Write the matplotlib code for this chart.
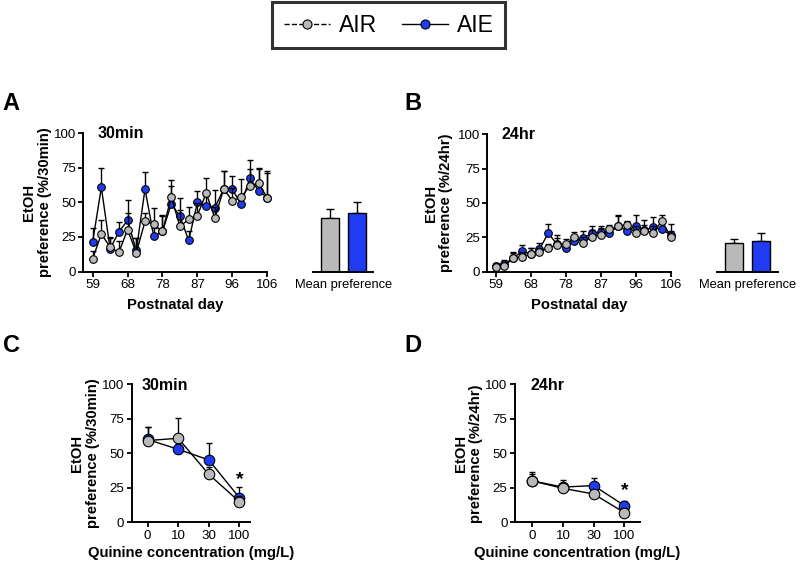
import matplotlib
matplotlib.use("Agg")
import matplotlib.pyplot as plt
from matplotlib.lines import Line2D
import numpy as np

plt.rcParams['font.family'] = ['Liberation Sans', 'DejaVu Sans']

# ---------------- data ----------------
days = [59, 61, 63, 66, 68, 70, 73, 75, 78, 80, 82, 85, 87, 89, 92, 94, 96, 99, 101, 103, 106]
day_ticks_idx = [0, 4, 8, 12, 16, 20]

a_aie = [21.3, 60.8, 16.5, 28.6, 37.0, 15.3, 59.6, 25.4, 29.0, 48.7, 40.0, 22.5, 50.0, 47.3, 46.3, 59.6, 59.4, 48.8, 67.4, 58.5, 53.4]
a_aie_err = [10.5, 14.0, 8.0, 7.0, 15.0, 9.0, 12.5, 6.0, 11.0, 13.0, 13.0, 6.5, 8.0, 7.0, 13.0, 13.0, 10.0, 6.0, 13.0, 15.5, 18.0]
a_air = [9.2, 27.1, 17.7, 13.8, 30.3, 13.6, 36.3, 34.1, 29.0, 54.0, 32.7, 37.8, 40.5, 56.7, 38.8, 59.6, 51.3, 53.6, 62.0, 63.8, 53.4]
a_air_err = [6.0, 10.0, 7.0, 8.0, 12.0, 11.0, 6.0, 11.5, 12.0, 12.0, 12.0, 9.0, 9.0, 11.0, 8.0, 13.0, 9.0, 13.5, 12.0, 11.0, 19.0]

b_aie = [4.0, 5.6, 9.7, 15.0, 12.9, 16.3, 28.0, 20.0, 17.0, 22.6, 24.3, 28.0, 29.0, 28.4, 33.0, 29.9, 33.2, 30.3, 32.3, 30.8, 26.7]
b_aie_err = [2.0, 3.0, 4.5, 4.5, 4.5, 4.5, 6.5, 6.5, 3.5, 4.0, 5.5, 5.0, 4.0, 4.0, 8.0, 6.0, 8.0, 7.5, 7.5, 6.0, 8.0]
b_air = [3.6, 4.4, 9.7, 11.0, 12.9, 14.0, 17.5, 19.4, 20.0, 25.0, 21.0, 25.5, 26.7, 30.8, 33.2, 34.0, 28.0, 29.9, 28.4, 36.9, 25.5]
b_air_err = [2.0, 2.5, 4.0, 3.0, 4.0, 3.5, 3.0, 5.0, 4.0, 4.0, 4.0, 5.0, 5.0, 3.0, 7.0, 3.0, 5.0, 4.0, 5.0, 4.0, 4.0]

mean_a = [38.5, 42.5]
mean_a_err = [6.5, 7.5]
mean_b = [21.1, 22.6]
mean_b_err = [2.7, 5.4]

quinine = ['0', '10', '30', '100']
c_air = [59.2, 60.9, 34.8, 15.0]
c_air_err = [10.0, 15.0, 5.0, 4.0]
c_aie = [60.0, 52.9, 45.2, 17.9]
c_aie_err = [9.0, 4.0, 12.0, 8.0]

d_air = [30.0, 24.6, 20.5, 7.0]
d_air_err = [6.7, 4.0, 3.0, 3.0]
d_aie = [30.0, 25.5, 26.6, 12.1]
d_aie_err = [5.0, 5.0, 5.8, 3.0]

GRAY = '#b9b9b9'
BLUE = '#1f3cf2'

fig = plt.figure(figsize=(8.0, 5.71), dpi=100)

LAB = 10.7
TICK = 9.6

def style_axis(ax):
    for s in ['top', 'right']:
        ax.spines[s].set_visible(False)
    for s in ['left', 'bottom']:
        ax.spines[s].set_linewidth(1.4)
    ax.tick_params(direction='out', length=3.3, width=1.3, labelsize=TICK, pad=2)
    ax.set_ylim(0, 100)
    ax.set_yticks([0, 25, 50, 75, 100])

def series(ax, x, y, err, color, ms, z):
    ax.plot(x, y, color='black', lw=1.0, zorder=z, clip_on=False)
    ax.errorbar(x, y, yerr=[np.zeros(len(y)), err], fmt='none', ecolor='black',
                elinewidth=1.0, capsize=2.2, capthick=1.0, zorder=z, clip_on=False)
    ax.plot(x, y, 'o', ms=ms, mfc=color, mec='black', mew=0.8, zorder=z + 0.5, clip_on=False)

def time_panel(rect, aie, aie_err, air, air_err, left, ylab, title, lcx, tx):
    ax = fig.add_axes(rect)
    style_axis(ax)
    idx = list(range(len(days)))
    series(ax, idx, aie, aie_err, BLUE, 5.5, 3)
    series(ax, idx, air, air_err, GRAY, 5.5, 4)
    ax.set_xlim(left, 20)
    ax.set_xticks(day_ticks_idx)
    ax.set_xticklabels([str(days[i]) for i in day_ticks_idx])
    ax.set_xlabel('Postnatal day', fontsize=LAB, fontweight='bold', labelpad=5)
    ax.set_ylabel(ylab, fontsize=LAB, fontweight='bold', linespacing=1.15)
    ax.yaxis.set_label_coords(lcx, 0.5)
    ax.text(tx, 0.965, title, transform=ax.transAxes, fontsize=11.5, fontweight='bold',
            ha='left', va='baseline')
    return ax

def bar_panel(rect, vals, errs):
    ax = fig.add_axes(rect)
    for s in ['top', 'right', 'left']:
        ax.spines[s].set_visible(False)
    ax.spines['bottom'].set_linewidth(1.4)
    ax.set_ylim(0, 100)
    ax.set_yticks([])
    ax.bar([0, 1], vals, width=0.66, color=[GRAY, BLUE], edgecolor='black', linewidth=1.0, zorder=2)
    ax.errorbar([0, 1], vals, yerr=[[0, 0], errs], fmt='none', ecolor='black',
                elinewidth=1.0, capsize=3, capthick=1.0, zorder=1)
    ax.set_xlim(-0.63, 1.62)
    ax.set_xticks([0.5])
    ax.set_xticklabels(['Mean preference'], fontsize=9.3)
    ax.tick_params(axis='x', length=0, pad=5.5)
    return ax

def quinine_panel(rect, aie, aie_err, air, air_err, xl, ylab, title, lcx, tx, star_y):
    ax = fig.add_axes(rect)
    style_axis(ax)
    pos = list(range(len(quinine)))
    series(ax, pos, aie, aie_err, BLUE, 7.6, 3)
    series(ax, pos, air, air_err, GRAY, 7.6, 4)
    ax.set_xlim(*xl)
    ax.set_xticks(pos)
    ax.set_xticklabels(quinine)
    ax.set_xlabel('Quinine concentration (mg/L)', fontsize=LAB, fontweight='bold', labelpad=3)
    ax.set_ylabel(ylab, fontsize=LAB, fontweight='bold', linespacing=1.15)
    ax.yaxis.set_label_coords(lcx, 0.5)
    ax.text(tx, 0.955, title, transform=ax.transAxes, fontsize=11.5, fontweight='bold',
            ha='left', va='baseline')
    ax.text(3, star_y, '*', fontsize=14, fontweight='bold', ha='center', va='center')
    return ax

# Panel A
time_panel([0.1041, 0.5245, 0.2300, 0.2420], a_aie, a_aie_err, a_air, a_air_err,
           -1.07, 'EtOH\npreference (%/30min)', '30min', -0.17, 0.08)
bar_panel([0.3916, 0.5245, 0.0750, 0.2420], mean_a, mean_a_err)

# Panel B
time_panel([0.6091, 0.5242, 0.2293, 0.2406], b_aie, b_aie_err, b_air, b_air_err,
           -0.96, 'EtOH\npreference (%/24hr)', '24hr', -0.185, 0.08)
bar_panel([0.8959, 0.5242, 0.0770, 0.2406], mean_b, mean_b_err)

# Panel C
quinine_panel([0.1646, 0.0853, 0.1479, 0.2417], c_aie, c_aie_err, c_air, c_air_err,
              (-0.52, 3.35), 'EtOH\npreference (%/30min)', '30min', -0.268, 0.085, 31)
# Panel D
quinine_panel([0.6438, 0.0853, 0.1563, 0.2417], d_aie, d_aie_err, d_air, d_air_err,
              (-0.56, 3.51), 'EtOH\npreference (%/24hr)', '24hr', -0.254, 0.12, 23)

# Panel letters
for lx, ly, lab in [(0.003, 0.807, 'A'), (0.506, 0.807, 'B'), (0.004, 0.384, 'C'), (0.506, 0.384, 'D')]:
    fig.text(lx, ly, lab, fontsize=17, fontweight='bold', ha='left', va='baseline')

# Legend
handles = [Line2D([0], [0], color='black', lw=1.0, ls='--', marker='o', ms=6.5,
                  mfc=GRAY, mec='black', mew=0.8),
           Line2D([0], [0], color='black', lw=1.0, ls='-', marker='o', ms=6.5,
                  mfc=BLUE, mec='black', mew=0.8)]
leg = fig.legend(handles, ['AIR', 'AIE'], loc='center', bbox_to_anchor=(0.486, 0.956),
                 ncol=2, fontsize=16.5, frameon=True, fancybox=False, handlelength=2.0,
                 handletextpad=0.4, columnspacing=1.1, borderpad=0.5, borderaxespad=0)
leg.get_frame().set_edgecolor('black')
leg.get_frame().set_linewidth(2.2)

fig.savefig('out.png', dpi=100)
